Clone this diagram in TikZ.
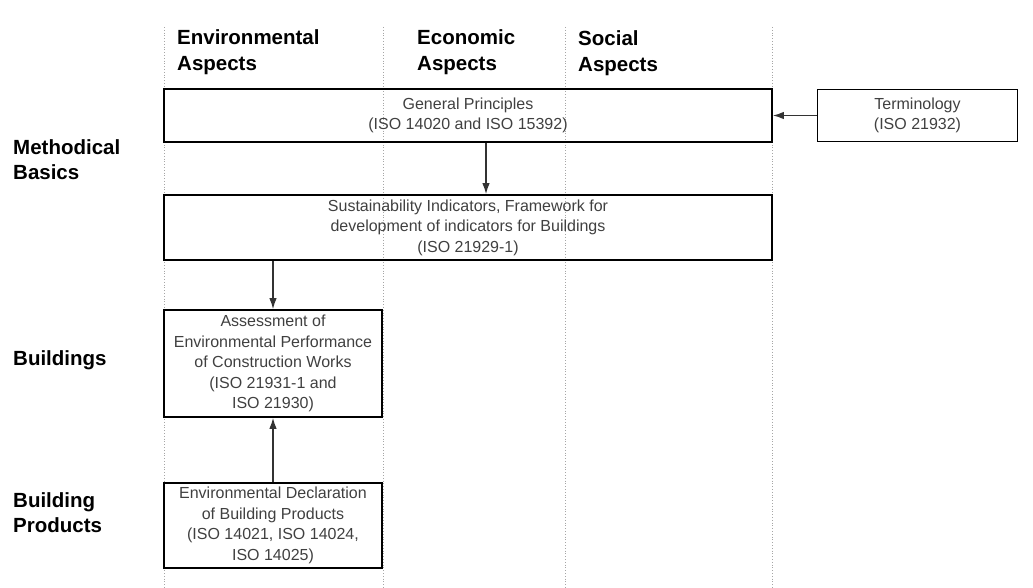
\documentclass[tikz,border=0pt]{standalone}
\usepackage{fontspec}
\setmainfont{Liberation Sans}
\usetikzlibrary{arrows.meta}
\tikzset{
  box/.style={draw=black, line width=1.8pt, rectangle, inner sep=0pt, align=center,
    text=black!75, font=\fontsize{16}{20.5}\selectfont},
  aspect/.style={anchor=west, align=left, inner sep=0pt, font=\fontsize{20.5}{26}\selectfont\bfseries},
  level/.style={anchor=west, align=left, inner sep=0pt, font=\fontsize{20.5}{25}\selectfont\bfseries},
  arr/.style={-{Latex[length=11pt,width=7.5pt]}, line width=1.2pt, draw=black!80},
  lane/.style={dotted, draw=black!35, line width=0.8pt}
}
\begin{document}
\begin{tikzpicture}[x=1pt,y=-1pt]
\useasboundingbox (0,0) rectangle (1033,588);
% lanes
\foreach \xx in {164,383,565,772}
  \draw[lane] (\xx,27) -- (\xx,588);
% column heads
\node[aspect] (envasp) at (177,52) {Environmental\\Aspects};
\node[aspect] (ecoasp) at (417,52) {Economic\\Aspects};
\node[aspect] (socasp) at (578,53) {Social\\Aspects};
% row heads
\node[level] (methbas) at (13,160) {Methodical\\Basics};
\node[level] (bldg) at (13,360) {Buildings};
\node[level] (bprod) at (13,513) {Building\\Products};
% boxes
\node[box, minimum width=608pt, minimum height=53pt] (genprin) at (468,115.5)
  {General Principles\\(ISO 14020 and ISO 15392)};
\node[box, minimum width=200pt, minimum height=52pt] (termin) at (917.5,115.5)
  {Terminology\\(ISO 21932)};
\node[box, minimum width=608pt, minimum height=65pt] (sustain) at (468,227.5)
  {Sustainability Indicators, Framework for\\development of indicators for Buildings\\(ISO 21929-1)};
\node[box, minimum width=218pt, minimum height=107pt] (assess) at (273,363.5)
  {Assessment of\\Environmental Performance\\of Construction Works\\(ISO 21931-1 and\\ISO 21930)};
\node[box, minimum width=218pt, minimum height=85pt] (decl) at (273,525.5)
  {Environmental Declaration\\of Building Products\\(ISO 14021, ISO 14024,\\ISO 14025)};
% arrows
\coordinate (gpdrop) at (486,0);
\draw[arr] (termin.west) -- (genprin.east);
\draw[arr] (genprin.south -| gpdrop) -- (sustain.north -| gpdrop);
\draw[arr] (sustain.south -| assess.north) -- (assess.north);
\draw[arr] (decl.north) -- (assess.south);
\end{tikzpicture}
\end{document}
